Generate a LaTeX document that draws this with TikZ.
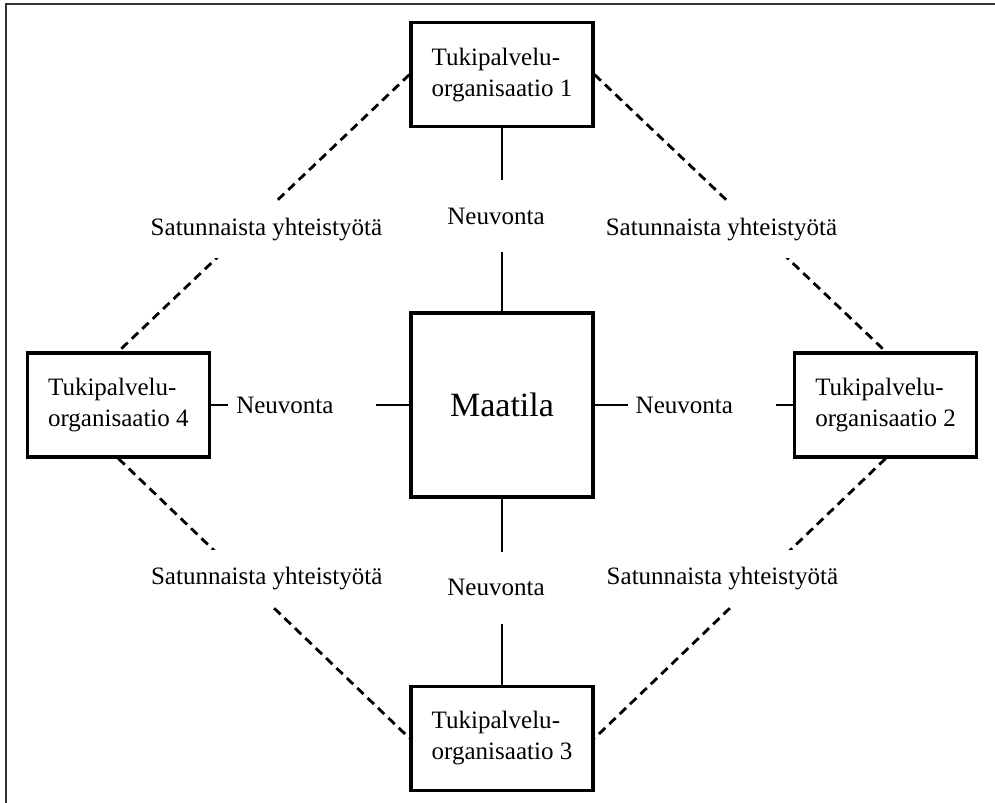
\documentclass[tikz,border=0pt]{standalone}
\usepackage{fontspec}
\setmainfont{Liberation Serif}
\usepackage{tikz}
\usetikzlibrary{%
  positioning
}
\tikzstyle{org}=[rectangle,draw=black,line width=2.2pt,minimum width=4.55cm,minimum height=2.6cm,align=left,inner sep=0pt,font=\fontsize{17.8}{22}\selectfont]
\tikzstyle{farm}=[rectangle,draw=black,line width=2.2pt,minimum width=4.55cm,minimum height=4.6cm,font=\fontsize{24.2}{29}\selectfont]
\tikzstyle{neuv}=[draw=black,line width=2pt]
\tikzstyle{satun}=[draw=black,line width=2pt,dash pattern=on 0.22cm off 0.14cm]
\tikzstyle{lbl}=[fill=white,inner xsep=0.3cm,inner ysep=0.7cm,font=\fontsize{17.8}{22}\selectfont]
\tikzstyle{hlbl}=[lbl,text width=3.3cm,align=left,inner xsep=0.2cm]
\tikzstyle{slbl}=[fill=white,inner xsep=0.1cm,inner ysep=0.43cm,font=\fontsize{17.8}{22}\selectfont]

\begin{document}
\begin{tikzpicture}[on grid]
  \useasboundingbox (0,0) rectangle (24.875,-20.075);
  \draw[black!80,line width=1.4pt] (0.15,-20.075) -- (0.15,-0.1) -- (24.875,-0.1);
  \node[farm] (maatila) at (12.55,-10.125) {Maatila};
  \node[org]  (org1) [above=8.26cm of maatila] {Tukipalvelu-\\organisaatio 1};
  \node[org]  (org2) [right=9.59cm of maatila] {Tukipalvelu-\\organisaatio 2};
  \node[org]  (org3) [below=8.33cm of maatila] {Tukipalvelu-\\organisaatio 3};
  \node[org]  (org4) [left=9.59cm of maatila]  {Tukipalvelu-\\organisaatio 4};
%
  \path[neuv]
  (org1)    edge node[lbl,pos=0.48,xshift=-0.15cm] {Neuvonta} (maatila)
  (maatila) edge node[lbl,pos=0.48,xshift=-0.15cm] {Neuvonta} (org3)
  (org4)    edge node[hlbl,pos=0.46] {Neuvonta} (maatila)
  (maatila) edge node[hlbl,pos=0.54] {Neuvonta} (org2);
  \path[satun]
  (org1.west) edge node[slbl,pos=0.56,xshift=0.5cm]   {Satunnaista yhteistyötä} (org4.north)
  (org1.east) edge node[slbl,pos=0.56,xshift=-0.9cm]  {Satunnaista yhteistyötä} (org2.north)
  (org4.south) edge node[slbl,pos=0.43,xshift=0.58cm]  {Satunnaista yhteistyötä} (org3.west)
  (org2.south) edge node[slbl,pos=0.43,xshift=-0.95cm] {Satunnaista yhteistyötä} (org3.east);
\end{tikzpicture}
\end{document}
